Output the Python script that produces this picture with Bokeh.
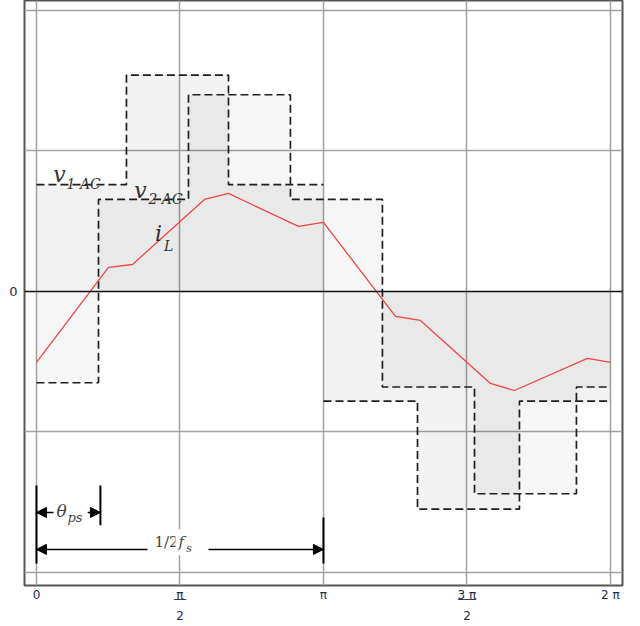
import numpy as np
from bokeh.plotting import figure
from bokeh.models import Range1d, FixedTicker, Label, Arrow, NormalHead, Span
from bokeh.embed import file_html
from bokeh.resources import INLINE

PI = np.pi

# ---- axis ticks ----
x_ticks = [0.0, PI / 2, PI, 3 * PI / 2, 2 * PI]
x_tick_labels = ["0", "π\n‾‾\n2", "π", "3 π\n‾‾‾\n2", "2 π"]
y_ticks = [0]
y_grid = [-2, -1, 1, 2]

# ---- v1_AC (step) : edges and levels ----
v1_edges = [0.0, 0.985, 2.102, PI, 4.171, 5.287, 2 * PI]
v1_levels = [0.76, 1.54, 0.76, -0.78, -1.55, -0.78]

# ---- v2_AC (step) : edges and levels ----
v2_edges = [0.0, 0.679, 1.664, 2.780, 3.787, 4.795, 5.911, 2 * PI]
v2_levels = [-0.65, 0.655, 1.40, 0.655, -0.68, -1.44, -0.68]

# ---- i_L ----
iL_x = [0.0, 0.788, 1.051, 1.839, 2.102, 2.868, PI, 3.930, 4.203, 4.970, 5.232, 6.031, 2 * PI]
iL_y = [-0.505, 0.171, 0.192, 0.655, 0.698, 0.463, 0.491, -0.178, -0.206, -0.655, -0.705, -0.477, -0.505]

theta_ps = 0.70


def step_xy(edges, levels):
    xs, ys = [], []
    for i, lv in enumerate(levels):
        xs += [edges[i], edges[i + 1]]
        ys += [lv, lv]
    return xs, ys


p = figure(width=636, height=626,
           x_range=Range1d(-0.131, 6.415), y_range=Range1d(-2.093, 2.071),
           output_backend="svg", toolbar_location=None,
           min_border_left=24, min_border_right=14, min_border_top=0, min_border_bottom=41)
p.background_fill_color = "white"
p.border_fill_color = "white"
p.outline_line_color = "#555555"
p.outline_line_width = 2

# axes
p.xaxis.ticker = FixedTicker(ticks=x_ticks)
p.xaxis.major_label_overrides = {t: l for t, l in zip(x_ticks, x_tick_labels)}
p.yaxis.ticker = FixedTicker(ticks=y_ticks)
for ax in (p.xaxis, p.yaxis):
    ax.axis_line_color = None
    ax.major_tick_in = 0
    ax.major_tick_out = 0
    ax.minor_tick_line_color = None
    ax.major_label_text_font = "DejaVu Sans"
    ax.major_label_text_color = "#1e2a4a"
p.xaxis.major_label_text_font_size = "12px"
p.yaxis.major_label_text_font_size = "13px"
p.xaxis.major_label_standoff = 2
p.xaxis.major_label_text_line_height = 0.75
p.yaxis.major_label_standoff = 7

# grid
p.xgrid.ticker = FixedTicker(ticks=x_ticks)
p.ygrid.ticker = FixedTicker(ticks=y_grid)
for g in (p.xgrid, p.ygrid):
    g.grid_line_color = "#a3a3a3"
    g.grid_line_width = 1.5

# fills
v1x, v1y = step_xy(v1_edges, v1_levels)
v2x, v2y = step_xy(v2_edges, v2_levels)
p.varea(x=v1x, y1=[0] * len(v1x), y2=v1y, fill_color="black", fill_alpha=0.05)
p.varea(x=v2x, y1=[0] * len(v2x), y2=v2y, fill_color="black", fill_alpha=0.035)

p.add_layout(Span(location=0, dimension="width", line_color="#111111", line_width=1.5))

# dashed step lines (v1 drawn as two half-periods)
half = 3
ax1, ay1 = step_xy(v1_edges[:half + 1], v1_levels[:half])
ax2, ay2 = step_xy(v1_edges[half:], v1_levels[half:])
dash = dict(line_color="#1f1f1f", line_width=1.7, line_dash="8 4")
p.line(ax1, ay1, **dash)
p.line(ax2, ay2, **dash)
p.line(v2x, v2y, **dash)

# inductor current
p.line(iL_x, iL_y, line_color="#f04545", line_width=1.3)

# waveform names
serif = "DejaVu Serif"
names = [
    # (x, y, text, size, align)
    (0.252, 0.83, "v", "22px", "center"),
    (0.33, 0.765, "1 AC", "14px", "left"),
    (1.138, 0.716, "v", "22px", "center"),
    (1.226, 0.657, "2 AC", "14px", "left"),
    (1.335, 0.41, "i", "22px", "center"),
    (1.395, 0.325, "L", "14px", "left"),
]
for x, y, t, s, a in names:
    p.add_layout(Label(x=x, y=y, text=t, text_align=a, text_baseline="middle",
                       text_font=serif, text_font_style="italic", text_font_size=s,
                       text_color="#333333"))

# dimension markers
p.segment(x0=[0.0, theta_ps, PI], y0=[-1.381, -1.381, -1.609],
          x1=[0.0, theta_ps, PI], y1=[-1.936, -1.665, -1.936],
          line_color="black", line_width=2)


def head():
    return NormalHead(size=10, fill_color="black", line_color="black")


for xs, xe, yy in [(0.186, 0.0, -1.573), (0.56, theta_ps, -1.573),
                   (1.215, 0.0, -1.836), (1.883, PI, -1.836)]:
    p.add_layout(Arrow(x_start=xs, y_start=yy, x_end=xe, y_end=yy, end=head(),
                       line_color="black", line_width=1.5))

p.add_layout(Label(x=0.274, y=-1.566, text="θ", text_align="center", text_baseline="middle",
                   text_font=serif, text_font_style="italic", text_font_size="17px", text_color="#444444"))
p.add_layout(Label(x=0.34, y=-1.612, text="ps", text_align="left", text_baseline="middle",
                   text_font=serif, text_font_style="italic", text_font_size="13px", text_color="#444444"))
p.add_layout(Label(x=1.423, y=-1.786, text="1/2", text_align="center", text_baseline="middle",
                   text_font=serif, text_font_size="15px", text_color="#444444",
                   background_fill_color="white", padding=4))
p.add_layout(Label(x=1.585, y=-1.786, text="f", text_align="center", text_baseline="middle",
                   text_font=serif, text_font_style="italic", text_font_size="15px", text_color="#444444",
                   background_fill_color="white", padding=3))
p.add_layout(Label(x=1.64, y=-1.83, text="s", text_align="left", text_baseline="middle",
                   text_font=serif, text_font_style="italic", text_font_size="11px", text_color="#444444"))

open("out.html", "w").write(file_html(p, INLINE))
